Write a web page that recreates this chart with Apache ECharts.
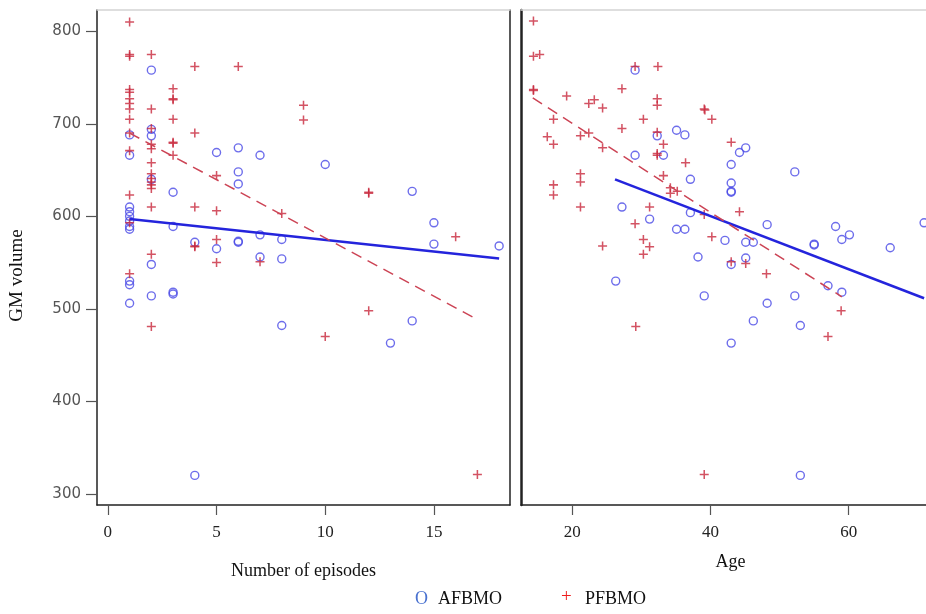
<!DOCTYPE html>
<html><head><meta charset="utf-8">
<script src="https://cdn.jsdelivr.net/npm/echarts@6/dist/echarts.min.js"></script>
<style>html,body{margin:0;padding:0;background:#fff;overflow:hidden;width:926px;height:614px}#c{width:945px;height:614px}</style>
</head><body><div id="c"></div>
<script>
// ---- tick labels ----
const yTicks = [300, 400, 500, 600, 700, 800];
const episodeTicks = [0, 5, 10, 15];
const ageTicks = [20, 40, 60];

// ---- left panel: Number of episodes vs GM volume ----
const episodesAF = [1,1,1,1,1,1,1,1,1,1,1, 2,2,2,2,2,2, 3,3,3,3, 4,4, 5,5, 6,6,6,6,6, 7,7,7, 8,8,8, 10, 13, 14,14, 15,15, 18];
const gmEpisodesAF = [688,666,610,605,600,595,589,586,530,526,506, 758,694,687,640,548,514, 626,589,518,516, 572,320, 669,565, 674,648,635,573,572, 666,580,556, 575,554,482, 656, 463, 627,487, 593,570, 568];
const episodesPF = [1,1,1,1,1,1,1,1,1,1,1,1,1,1, 2,2,2,2,2,2,2,2,2,2,2,2,2,2, 3,3,3,3,3,3,3, 4,4,4,4,4, 5,5,5,5, 6, 7, 8, 9,9, 10, 12,12,12, 16, 17];
const gmEpisodesPF = [810,775,773,737,734,727,722,716,705,690,671,623,593,538, 775,716,695,678,673,658,646,641,637,634,630,610,559,481, 738,727,726,705,680,679,666, 762,690,610,568,567, 644,606,575,550, 762, 551, 603, 720,704, 470, 626,625,498, 578, 321];
const epFitAFx = [1, 18], epFitAFy = [597, 554.5];
const epFitPFx = [1, 16.8], epFitPFy = [690, 491];

// ---- right panel: Age vs GM volume ----
const ageAF = [29.1,35.1,36.3,32.3,29.1,33.2,37.1,27.2,37.1,31.2,35.1,36.3,38.2,42.1,45.1,44.2,43.0,43.0,43.0,43.0,52.2,48.2,58.1,70.9,45.1,46.2,55.0,55.0,59.0,60.1,66.0,45.1,43.0,57.0,59.0,48.2,52.2,46.2,53.0,43.0,53.0,26.3,39.1];
const gmAgeAF = [758,693,688,687,666,666,640,610,604,597,586,586,556,574,674,669,656,636,627,626,648,591,589,593,572,572,570,569,575,580,566,555,548,525,518,506,514,487,482,463,320,530,514];
const agePF = [14.4,14.4,15.3,14.4,14.4,19.2,22.4,23.2,24.4,27.2,29.1,32.4,32.3,32.3,39.1,39.2,40.2,17.3,30.3,27.2,16.4,21.2,22.4,17.3,24.4,32.3,33.2,32.3,32.3,36.4,33.2,21.2,21.2,17.3,17.3,34.2,34.2,35.2,21.2,31.2,39.1,29.1,40.2,30.3,31.2,24.4,30.3,29.2,39.1,43.0,44.2,43.0,45.1,48.1,58.9,57.0];
const gmAgePF = [811,773,775,737,736,730,722,726,717,738,762,762,727,720,716,715,705,705,705,695,686,687,690,678,674,691,678,668,666,658,644,646,637,634,623,631,625,627,610,610,602,592,578,575,567,568,559,481,321,680,605,551,549,538,498,470];
const ageFitAFx = [26.2, 70.9], ageFitAFy = [640, 511.5];
const ageFitPFx = [14.3, 59.0], ageFitPFy = [728, 513];

const seriesNames = ['AFBMO', 'PFBMO'];

// ---- build ----
const zip = (xs, ys) => xs.map((x, i) => [x, ys[i]]);
const BLUE = '#4848e6', RED = '#c8283c', LINEBLUE = '#2424dc', LINERED = '#cc4455';
const PLUS = 'path://M4.15,0H5.85V4.15H10V5.85H5.85V10H4.15V5.85H0V4.15H4.15Z';
const serif = 'Liberation Serif';

function xBottom(grid, min, max, ticks, name, gap) {
  return {
    gridIndex: grid, type: 'value', min, max, position: 'bottom',
    axisLine: { show: true, onZero: false, lineStyle: { color: '#222', width: 1.5 } },
    axisTick: { show: true, customValues: ticks, length: 10, lineStyle: { color: '#555', width: 1.2 } },
    axisLabel: { customValues: ticks, margin: 19, fontFamily: serif, fontSize: 17, color: '#222' },
    splitLine: { show: false },
    name, nameLocation: 'middle', nameGap: gap,
    nameTextStyle: { fontFamily: serif, fontSize: 18, color: '#111' }
  };
}
function xTop(grid, min, max) {
  return {
    gridIndex: grid, type: 'value', min, max, position: 'top',
    axisLine: { show: true, onZero: false, lineStyle: { color: '#d4d4d4', width: 1.5 } },
    axisTick: { show: false }, axisLabel: { show: false }, splitLine: { show: false }
  };
}
function yPlain(grid, pos, w) {
  return {
    gridIndex: grid, type: 'value', min: 288, max: 823, position: pos,
    axisLine: { show: true, onZero: false, lineStyle: { color: '#222', width: w } },
    axisTick: { show: false }, axisLabel: { show: false }, splitLine: { show: false }
  };
}

const option = {
  animation: false,
  backgroundColor: '#fff',
  grid: [
    { left: 97, top: 10, width: 413, height: 495 },
    { left: 521, top: 10, width: 419, height: 495 }
  ],
  xAxis: [
    xBottom(0, -0.5, 18.5, episodeTicks, 'Number of episodes', 57),
    xTop(0, -0.5, 18.5),
    xBottom(1, 12.6, 73.2, ageTicks, 'Age', 48),
    xTop(1, 12.6, 73.2)
  ],
  yAxis: [
    {
      gridIndex: 0, type: 'value', min: 288, max: 823, position: 'left',
      axisLine: { show: true, onZero: false, lineStyle: { color: '#222', width: 1.5 } },
      axisTick: { show: true, customValues: yTicks, length: 11, lineStyle: { color: '#555', width: 1.2 } },
      axisLabel: { customValues: yTicks, margin: 16, fontFamily: 'DejaVu Sans', fontSize: 15, color: '#555' },
      splitLine: { show: false },
      name: 'GM volume', nameLocation: 'middle', nameGap: 70, nameRotate: 90,
      nameTextStyle: { fontFamily: serif, fontSize: 19, color: '#111', padding: [0, 36, 0, 0] }
    },
    yPlain(0, 'right', 1.5),
    yPlain(1, 'left', 2.5),
    yPlain(1, 'right', 1.5)
  ],
  series: [
    { name: seriesNames[0], type: 'scatter', xAxisIndex: 0, yAxisIndex: 0, data: zip(episodesAF, gmEpisodesAF),
      symbol: 'circle', symbolSize: 8, itemStyle: { color: 'rgba(0,0,0,0)', borderColor: BLUE, borderWidth: 1.4 } },
    { name: seriesNames[1], type: 'scatter', xAxisIndex: 0, yAxisIndex: 0, data: zip(episodesPF, gmEpisodesPF),
      symbol: PLUS, symbolSize: 9, itemStyle: { color: RED } },
    { name: seriesNames[0], type: 'scatter', xAxisIndex: 2, yAxisIndex: 2, data: zip(ageAF, gmAgeAF),
      symbol: 'circle', symbolSize: 8, itemStyle: { color: 'rgba(0,0,0,0)', borderColor: BLUE, borderWidth: 1.4 } },
    { name: seriesNames[1], type: 'scatter', xAxisIndex: 2, yAxisIndex: 2, data: zip(agePF, gmAgePF),
      symbol: PLUS, symbolSize: 9, itemStyle: { color: RED } },
    { type: 'line', xAxisIndex: 0, yAxisIndex: 0, data: zip(epFitAFx, epFitAFy), symbol: 'none',
      lineStyle: { color: LINEBLUE, width: 2.5 } },
    { type: 'line', xAxisIndex: 0, yAxisIndex: 0, data: zip(epFitPFx, epFitPFy), symbol: 'none',
      lineStyle: { color: LINERED, width: 1.5, type: [11, 7] } },
    { type: 'line', xAxisIndex: 2, yAxisIndex: 2, data: zip(ageFitAFx, ageFitAFy), symbol: 'none',
      lineStyle: { color: LINEBLUE, width: 2.5 } },
    { type: 'line', xAxisIndex: 2, yAxisIndex: 2, data: zip(ageFitPFx, ageFitPFy), symbol: 'none',
      lineStyle: { color: LINERED, width: 1.5, type: [11, 7] } }
  ],
  graphic: [
    { type: 'text', left: 415, top: 590, style: { text: 'O', fill: '#4a72d0', font: '18px "Liberation Serif"' } },
    { type: 'text', left: 438, top: 590, style: { text: seriesNames[0], fill: '#111', font: '18px "Liberation Serif"' } },
    { type: 'text', left: 561, top: 588, style: { text: '+', fill: '#ee1c1c', font: '19px "Liberation Serif"' } },
    { type: 'text', left: 585, top: 590, style: { text: seriesNames[1], fill: '#111', font: '18px "Liberation Serif"' } }
  ]
};
echarts.init(document.getElementById('c'), null, { renderer: 'canvas' }).setOption(option);
</script>
</body></html>
